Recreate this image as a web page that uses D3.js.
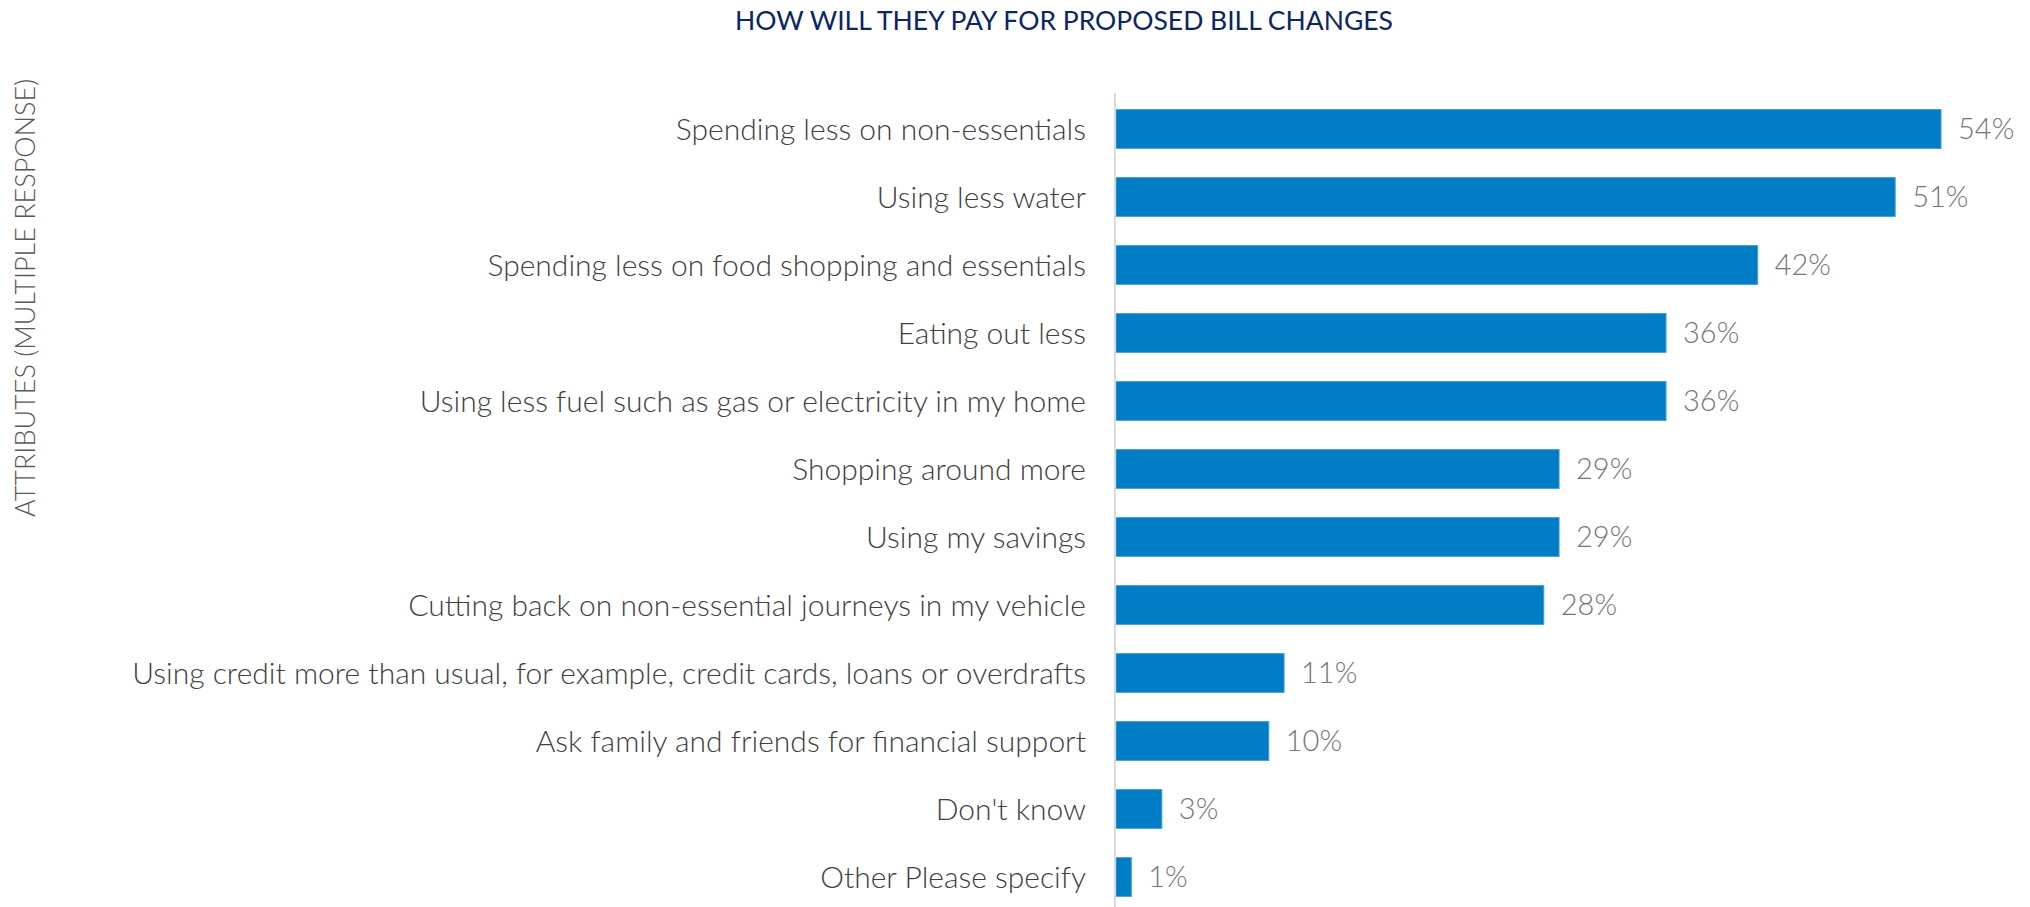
<!DOCTYPE html>
<html>
<head>
<meta charset="utf-8">
<script src="https://cdn.jsdelivr.net/npm/d3@7"></script>
<style>
  html, body { margin: 0; padding: 0; background: #ffffff; }
  svg { display: block; }
</style>
</head>
<body>
<svg id="chart" width="2030" height="907"></svg>
<script>
// Survey responses: how people will pay for the proposed bill changes
const categories = [
  "Spending less on non-essentials",
  "Using less water",
  "Spending less on food shopping and essentials",
  "Eating out less",
  "Using less fuel such as gas or electricity in my home",
  "Shopping around more",
  "Using my savings",
  "Cutting back on non-essential journeys in my vehicle",
  "Using credit more than usual, for example, credit cards, loans or overdrafts",
  "Ask family and friends for financial support",
  "Don't know",
  "Other Please specify"
];
const shares = [54, 51, 42, 36, 36, 29, 29, 28, 11, 10, 3, 1];

const titleText = "HOW WILL THEY PAY FOR PROPOSED BILL CHANGES";
const axisTitle = "ATTRIBUTES (MULTIPLE RESPONSE)";

const W = 2030, H = 907;
const axisX = 1116;
const FONT = "Lato, 'Open Sans', 'Noto Sans', sans-serif";

const svg = d3.select("#chart");

const x = d3.scaleLinear()
  .domain([0, d3.max(shares)])
  .range([axisX, 1941]);

const y = d3.scaleBand()
  .domain(categories)
  .range([95, 911])
  .paddingInner(0.43)
  .paddingOuter(0.215);

// title
svg.append("text")
  .attr("x", 1064)
  .attr("y", 30)
  .attr("text-anchor", "middle")
  .attr("font-family", FONT)
  .attr("font-size", 26.5)
  .attr("fill", "#0b2565")
  .text(titleText);

// vertical axis title
svg.append("text")
  .attr("transform", "translate(35,298) rotate(-90)")
  .attr("text-anchor", "middle")
  .attr("font-family", FONT)
  .attr("font-weight", 300)
  .attr("font-size", 27)
  .attr("fill", "#595959")
  .text(axisTitle);

// bars
svg.append("g")
  .selectAll("rect")
  .data(shares)
  .join("rect")
  .attr("x", x(0))
  .attr("y", (d, i) => y(categories[i]))
  .attr("width", d => x(d) - x(0))
  .attr("height", y.bandwidth())
  .attr("fill", "#007dc5")
  .attr("stroke", "#3f9ad6")
  .attr("stroke-width", 1);

// category axis (labels only, baseline line drawn separately)
const yAxis = d3.axisLeft(y).tickSize(0).tickPadding(30);
const gy = svg.append("g")
  .attr("transform", `translate(${axisX},0)`)
  .call(yAxis);
gy.select(".domain").remove();
gy.selectAll("text")
  .attr("font-family", FONT)
  .attr("font-weight", 300)
  .attr("font-size", 30)
  .attr("fill", "#404040")
  .attr("dy", "0.35em");

svg.append("line")
  .attr("x1", axisX - 1).attr("x2", axisX - 1)
  .attr("y1", 93).attr("y2", H)
  .attr("stroke", "#d9d9d9")
  .attr("stroke-width", 2);

// value labels
svg.append("g")
  .selectAll("text")
  .data(shares)
  .join("text")
  .attr("x", d => x(d) + 17)
  .attr("y", (d, i) => y(categories[i]) + y.bandwidth() / 2)
  .attr("dy", "0.35em")
  .attr("font-family", FONT)
  .attr("font-weight", 300)
  .attr("font-size", 29)
  .attr("fill", "#767676")
  .text(d => d + "%");
</script>
</body>
</html>
